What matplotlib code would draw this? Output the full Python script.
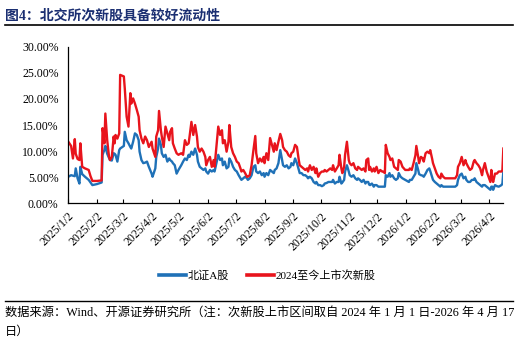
import matplotlib
matplotlib.use("Agg")
import matplotlib.pyplot as plt
from matplotlib.lines import Line2D
import numpy as np
import pandas as pd

# trading-day samples, values in %
days_2025 = [
    "01-02", "01-05", "01-07", "01-09", "01-10", "01-12", "01-14", "01-15", "01-17", "01-20",
    "01-24", "01-26", "01-28", "02-02", "02-07", "02-08", "02-09", "02-10", "02-11", "02-13",
    "02-15", "02-16", "02-18", "02-20", "02-21", "02-22", "02-24", "02-26", "02-27", "03-03",
    "03-04", "03-06", "03-08", "03-10", "03-11", "03-13", "03-15", "03-17", "03-19", "03-20",
    "03-22", "03-24", "03-26", "03-28", "03-30", "04-02", "04-03", "04-06", "04-07", "04-09",
    "04-10", "04-12", "04-13", "04-15", "04-17", "04-19", "04-21", "04-22", "04-24", "04-25",
    "04-27", "04-29", "05-01", "05-04", "05-06", "05-08", "05-10", "05-12", "05-13", "05-15",
    "05-17", "05-19", "05-21", "05-22", "05-24", "05-26", "05-28", "05-30", "05-31", "06-02",
    "06-04", "06-06", "06-08", "06-09", "06-11", "06-13", "06-15", "06-17", "06-18", "06-20",
    "06-22", "06-24", "06-25", "06-27", "06-29", "07-01", "07-03", "07-05", "07-07", "07-08",
    "07-10", "07-12", "07-14", "07-15", "07-17", "07-19", "07-21", "07-23", "07-24", "07-26",
    "07-28", "07-30", "08-01", "08-02", "08-04", "08-06", "08-08", "08-10", "08-12", "08-13",
    "08-15", "08-17", "08-19", "08-21", "08-22", "08-24", "08-26", "08-28", "08-30", "08-31",
    "09-02", "09-04", "09-06", "09-08", "09-09", "09-11", "09-13", "09-15", "09-17", "09-18",
    "09-20", "09-22", "09-24", "09-26", "09-27", "09-29", "10-01", "10-03", "10-05", "10-06",
    "10-08", "10-10", "10-12", "10-14", "10-15", "10-17", "10-19", "10-21", "10-22", "10-24",
    "10-25", "10-27", "10-28", "10-30", "11-01", "11-02", "11-04", "11-06", "11-08", "11-10",
    "11-11", "11-13", "11-15", "11-17", "11-19", "11-20", "11-22", "11-23", "11-24", "11-26",
    "11-28", "11-29", "12-01", "12-03", "12-05", "12-07", "12-08", "12-10", "12-11", "12-13",
    "12-15", "12-16", "12-18", "12-20", "12-22", "12-24", "12-25", "12-27", "12-29",
]
ipo_2025 = [
    11.8, 11.0, 8.6, 12.3, 9.5, 8.5, 8.3, 11.5, 7.0, 6.7,
    6.4, 5.2, 4.3, 4.3, 4.4, 14.4, 13.1, 11.5, 17.2, 12.1,
    8.9, 8.3, 8.9, 12.8, 11.5, 13.1, 12.4, 13.4, 24.6, 24.3,
    22.0, 16.6, 14.7, 21.1, 19.1, 20.1, 19.1, 17.9, 16.6, 14.0,
    12.4, 11.5, 12.8, 12.1, 10.8, 11.8, 10.5, 8.9, 12.8, 14.0,
    17.7, 14.0, 12.8, 10.8, 14.7, 13.4, 12.1, 13.7, 14.4, 11.5,
    10.5, 9.6, 9.3, 9.6, 9.3, 12.1, 11.2, 11.5, 12.8, 15.6,
    13.1, 15.0, 12.8, 10.8, 9.9, 10.5, 9.9, 8.9, 7.3, 8.3,
    8.9, 7.0, 8.3, 7.0, 10.8, 14.7, 13.1, 14.0, 11.5, 12.1,
    9.9, 11.8, 15.0, 10.8, 9.6, 8.9, 8.0, 7.7, 6.7, 6.1,
    6.4, 5.8, 5.1, 5.1, 5.4, 7.3, 10.2, 12.9, 9.6, 7.7,
    8.6, 8.0, 8.9, 7.7, 9.6, 8.3, 12.5, 11.2, 9.9, 11.5,
    10.2, 11.8, 13.3, 12.1, 10.8, 10.2, 9.9, 9.2, 8.9, 9.6,
    9.9, 11.2, 10.8, 8.3, 7.3, 7.0, 6.7, 6.4, 6.7, 6.1,
    7.3, 6.4, 7.0, 5.8, 6.7, 5.1, 5.8, 6.1, 6.1, 6.4,
    6.1, 6.4, 6.7, 6.4, 7.3, 6.1, 6.7, 7.3, 9.3, 6.7,
    5.8, 7.0, 9.3, 11.8, 8.3, 7.7, 7.3, 7.7, 6.7, 6.4,
    7.0, 6.7, 6.4, 6.7, 6.1, 8.3, 8.6, 6.4, 7.0, 6.1,
    6.7, 6.1, 7.0, 5.8, 6.4, 6.1, 6.1, 5.8, 11.2, 9.6,
    8.9, 8.3, 8.6, 7.0, 6.7, 6.4, 8.3, 8.0, 7.0,
]
bz_2025 = [
    5.1, 5.4, 5.3, 5.2, 6.7, 4.8, 3.8, 7.0, 5.6, 5.1,
    4.5, 4.0, 3.5, 3.7, 4.0, 9.3, 9.8, 10.2, 11.0, 9.5,
    8.7, 8.3, 8.2, 9.6, 9.5, 9.3, 8.0, 10.2, 10.5, 11.0,
    13.7, 12.1, 11.5, 10.8, 10.5, 11.8, 13.4, 13.1, 12.1, 9.9,
    8.3, 7.7, 7.8, 8.0, 7.0, 5.7, 5.1, 6.7, 8.9, 10.5,
    12.4, 11.2, 9.6, 8.9, 9.3, 8.0, 8.6, 8.3, 8.0, 7.7,
    7.3, 5.7, 6.4, 7.3, 8.0, 8.6, 8.3, 9.3, 8.9, 9.9,
    9.3, 10.5, 9.3, 8.0, 7.0, 6.7, 6.4, 6.7, 6.1, 5.7,
    6.4, 6.1, 6.4, 6.1, 7.7, 9.3, 8.3, 8.6, 7.3, 8.0,
    6.7, 7.0, 8.6, 8.0, 7.0, 6.4, 6.1, 5.4, 4.8, 4.5,
    4.8, 5.1, 4.8, 4.5, 4.8, 5.4, 7.0, 7.3, 6.1, 5.8,
    6.1, 5.4, 5.8, 5.1, 5.8, 5.4, 6.4, 6.1, 5.8, 6.4,
    6.7, 7.7, 10.2, 8.3, 7.3, 7.0, 7.3, 6.7, 7.0, 7.7,
    7.3, 8.6, 7.7, 6.4, 5.8, 5.8, 5.4, 5.4, 5.1, 4.8,
    5.1, 4.8, 4.1, 3.8, 4.1, 3.5, 3.5, 3.3, 3.5, 3.8,
    3.9, 4.1, 4.1, 4.1, 4.5, 3.8, 4.1, 4.1, 5.1, 3.8,
    4.0, 4.5, 6.1, 7.3, 6.1, 5.4, 5.1, 5.4, 4.8, 4.5,
    4.8, 4.5, 4.1, 4.5, 3.8, 4.1, 4.1, 3.6, 3.5, 3.8,
    3.2, 3.5, 3.5, 3.2, 3.2, 3.2, 3.2, 3.2, 5.4, 5.1,
    5.8, 5.1, 5.4, 4.8, 4.5, 4.8, 5.8, 5.1, 4.8,
]
days_2026 = [
    "01-01", "01-05", "01-06", "01-08", "01-10", "01-12", "01-13", "01-15", "01-16", "01-18",
    "01-20", "01-21", "01-23", "01-25", "01-27", "01-28", "01-30", "01-31", "02-02", "02-04",
    "02-06", "02-08", "02-09", "02-11", "02-13", "02-17", "02-20", "02-24", "02-26", "02-27",
    "03-01", "03-03", "03-05", "03-07", "03-08", "03-10", "03-12", "03-14", "03-16", "03-17",
    "03-19", "03-21", "03-23", "03-25", "03-26", "03-28", "03-30", "04-01", "04-03", "04-04",
    "04-05", "04-06", "04-08", "04-10", "04-12", "04-13", "04-15", "04-16", "04-17",
]
ipo_2026 = [
    6.4, 6.4, 6.7, 6.4, 7.7, 9.2, 11.0, 8.9, 7.7, 8.9,
    8.6, 8.0, 9.6, 9.9, 9.6, 10.2, 8.6, 7.7, 6.7, 5.7,
    5.1, 4.8, 5.7, 5.1, 4.8, 4.8, 4.8, 4.8, 5.4, 7.0,
    7.7, 8.9, 7.3, 8.3, 7.7, 7.0, 6.4, 6.7, 8.0, 8.3,
    7.7, 7.3, 6.7, 5.4, 6.4, 7.7, 6.1, 5.1, 4.1, 6.4,
    4.8, 4.1, 5.7, 5.7, 6.1, 6.1, 6.1, 6.4, 10.5,
]
bz_2026 = [
    4.5, 4.1, 4.5, 4.5, 5.1, 5.7, 7.7, 6.4, 5.6, 5.4,
    5.3, 5.1, 5.7, 6.4, 6.7, 6.2, 5.1, 4.5, 4.1, 3.8,
    3.5, 3.2, 3.5, 3.2, 3.2, 3.2, 3.2, 3.2, 3.5, 4.5,
    5.4, 5.7, 4.8, 5.1, 4.5, 4.1, 4.1, 4.5, 4.5, 4.8,
    4.1, 3.8, 3.5, 3.2, 3.5, 3.5, 3.2, 2.9, 2.6, 3.2,
    3.2, 2.6, 3.5, 3.3, 3.2, 3.3, 3.5, 3.8, 6.1,
]

dates = pd.to_datetime(["2025-" + d for d in days_2025] + ["2026-" + d for d in days_2026])
ipo = ipo_2025 + ipo_2026
bz = bz_2025 + bz_2026

BLUE = "#1F71B7"
RED = "#E8141C"
NAVY = "#1B2F72"
SERIF_CJK = ["Liberation Serif", "Noto Sans CJK SC"]

fig = plt.figure(figsize=(5.3, 3.52), dpi=100)
ax = fig.add_axes([0.1289, 0.4222, 0.8208, 0.4452])

ax.plot(dates, bz, color=BLUE, lw=1.7, label="北证A股")
ax.plot(dates, ipo, color=RED, lw=1.7, label="2024至今上市次新股")

ax.set_xlim(pd.Timestamp("2025-01-02"), pd.Timestamp("2026-04-17"))
ax.set_ylim(0, 30)
yt = np.arange(0, 31, 5)
ax.set_yticks(yt)
ax.set_yticklabels([f"{v:.2f}%" for v in yt], fontfamily="Liberation Serif", fontsize=8.5)
ax.tick_params(axis="y", length=0, pad=7)

ticks = [pd.Timestamp(2025 + m // 12, m % 12 + 1, 2) for m in range(16)]
ax.set_xticks(ticks)
ax.set_xticklabels([f"{t.year}/{t.month}/{t.day}" for t in ticks], rotation=45, ha="right",
                   rotation_mode="anchor", fontfamily="Liberation Serif", fontsize=8.5)
ax.tick_params(axis="x", direction="in", length=3, width=0.8, pad=5)

for s in ["top", "right"]:
    ax.spines[s].set_visible(False)
for s in ["left", "bottom"]:
    ax.spines[s].set_linewidth(0.9)
    ax.spines[s].set_color("black")

leg = fig.legend(loc="center", bbox_to_anchor=(267.5 / 530, 1 - 275 / 352), ncol=2,
                 frameon=False, prop={"family": SERIF_CJK, "size": 8},
                 handlelength=2.4, handletextpad=0.2, columnspacing=1.6)
for ln in leg.get_lines():
    ln.set_linewidth(2.6)

fig.text(5 / 530, 1 - 15.5 / 352, "图4：北交所次新股具备较好流动性", fontsize=10,
         fontweight="bold", color=NAVY, ha="left", va="center", family=SERIF_CJK)
fig.add_artist(Line2D([5 / 530, 513 / 530], [1 - 25 / 352] * 2, color="black", lw=1.2))
fig.add_artist(Line2D([5 / 530, 513 / 530], [1 - 300.7 / 352] * 2, color="black", lw=1.0))

fig.text(5 / 530, 1 - 313.5 / 352,
         "数据来源：Wind、开源证券研究所（注：次新股上市区间取自 2024 年 1 月 1 日-2026 年 4 月 17",
         fontsize=8.8, ha="left", va="center", family=SERIF_CJK)
fig.text(5 / 530, 1 - 331.7 / 352, "日）", fontsize=8.8, ha="left", va="center", family=SERIF_CJK)

fig.savefig("out.png", dpi=100)
